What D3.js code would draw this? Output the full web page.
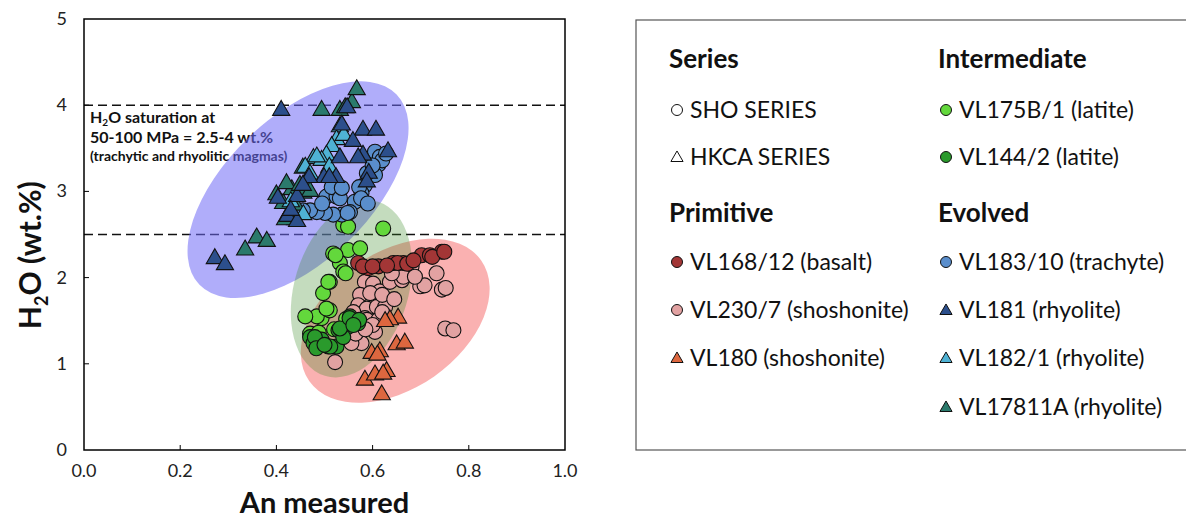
<!DOCTYPE html>
<html>
<head>
<meta charset="utf-8">
<script src="https://cdn.jsdelivr.net/npm/d3@7"></script>
<style>
  body { margin: 0; background: #fff; }
  svg { display: block; font-family: Lato, "Open Sans", sans-serif; }
</style>
</head>
<body>
<svg id="chart" width="1186" height="518"></svg>
<script>
// ---- data (An measured, H2O wt.%) ----
const xTicks = [0.0, 0.2, 0.4, 0.6, 0.8, 1.0];
const yTicks = [0, 1, 2, 3, 4, 5];
const saturationLevels = [4, 2.5];

const vl168 = [[0.570,2.17],[0.591,2.11],[0.612,2.13],[0.643,2.17],[0.664,2.17],[0.702,2.26],[0.719,2.26],[0.744,2.30],
  [0.58,2.13],[0.60,2.13],[0.652,2.17],[0.672,2.16],[0.724,2.24],[0.749,2.30],[0.63,2.14],[0.685,2.20]];
const vl230 = [[0.584,1.95],[0.601,1.93],[0.615,1.84],[0.636,1.95],[0.661,1.97],[0.681,2.13],[0.699,1.90],[0.733,2.05],
  [0.744,1.86],[0.574,1.80],[0.595,1.82],[0.570,1.68],[0.588,1.64],[0.609,1.66],[0.626,1.66],[0.584,1.53],[0.605,1.37],
  [0.577,1.24],[0.556,1.24],[0.522,1.02],[0.751,1.41],[0.768,1.39],[0.588,1.51],[0.612,1.51],[0.708,1.91],[0.752,1.88],
  [0.664,2.01],[0.688,2.01],[0.62,1.80],[0.645,1.75],[0.60,1.45],[0.565,1.35],[0.585,1.40],[0.62,1.60],[0.64,2.05],[0.56,1.60]];
const vl180 = [[0.653,1.53],[0.636,1.51],[0.626,1.49],[0.650,1.22],[0.667,1.24],[0.598,1.12],[0.615,1.14],[0.584,0.81],
  [0.605,0.87],[0.629,0.91],[0.619,0.64],[0.622,0.88],[0.61,1.10]];
const vl175 = [[0.539,2.61],[0.549,2.59],[0.622,2.57],[0.518,2.28],[0.549,2.32],[0.574,2.34],[0.532,2.17],[0.539,2.07],
  [0.511,1.95],[0.497,1.82],[0.494,1.53],[0.511,1.62],[0.484,1.55],[0.504,1.64],[0.47,1.35],[0.523,2.26],[0.544,2.05],
  [0.508,1.95],[0.488,1.36],[0.46,1.55],[0.52,1.40],[0.545,1.52]];
const vl144 = [[0.47,1.31],[0.477,1.24],[0.508,1.20],[0.525,1.20],[0.529,1.39],[0.549,1.43],[0.553,1.55],[0.570,1.47],
  [0.539,1.31],[0.494,1.28],[0.48,1.31],[0.483,1.18],[0.512,1.20],[0.532,1.41],[0.552,1.53],[0.572,1.51],[0.50,1.22],[0.56,1.45]];
const vl183 = [[0.605,3.40],[0.612,3.31],[0.605,3.19],[0.584,3.07],[0.577,2.98],[0.563,2.88],[0.553,2.76],[0.536,2.73],
  [0.518,2.73],[0.501,2.75],[0.484,2.76],[0.47,2.78],[0.504,2.94],[0.525,2.94],[0.515,3.05],[0.605,3.46],[0.615,3.40],
  [0.588,3.21],[0.62,3.36],[0.628,3.44],[0.435,2.75],[0.495,2.86],[0.532,2.92],[0.536,3.04],[0.572,3.05],[0.576,2.92],
  [0.548,2.75],[0.455,2.78],[0.59,2.86],[0.60,3.30]];
const vl181 = [[0.41,3.94],[0.547,3.97],[0.536,3.77],[0.58,3.71],[0.607,3.71],[0.559,3.58],[0.632,3.46],[0.58,3.42],
  [0.532,3.39],[0.592,3.21],[0.499,3.16],[0.468,3.16],[0.524,3.16],[0.588,3.11],[0.443,2.94],[0.403,2.92],[0.423,2.71],
  [0.443,2.65],[0.272,2.22],[0.293,2.15],[0.51,3.16],[0.57,3.39],[0.455,3.07],[0.43,2.78]];
const vl182 = [[0.532,3.75],[0.525,3.60],[0.515,3.52],[0.504,3.42],[0.477,3.38],[0.494,3.36],[0.484,3.40],[0.46,3.28],
  [0.456,2.73],[0.51,3.28],[0.47,3.20],[0.43,2.88],[0.54,3.65]];
const vl17811a = [[0.494,3.94],[0.532,3.94],[0.543,3.97],[0.557,4.03],[0.567,4.18],[0.335,2.32],[0.359,2.46],[0.38,2.42],
  [0.40,2.96],[0.414,2.86],[0.432,3.02],[0.428,2.76],[0.439,2.67],[0.456,2.98],[0.421,3.09],[0.449,3.07],[0.418,2.67],
  [0.455,3.27],[0.44,2.84],[0.47,3.00]];

// field ellipses: centre in data units
const fieldCentres = { evolved: [0.445, 3.02], intermediate: [0.556, 1.87], primitive: [0.647, 1.50] };

// ---- styles ----
const series = [
  { name: "VL230/7 (shoshonite)", data: vl230, shape: "circle", fill: "#e2a2a2" },
  { name: "VL168/12 (basalt)", data: vl168, shape: "circle", fill: "#a33636" },
  { name: "VL180 (shoshonite)", data: vl180, shape: "triangle", fill: "#dd673f" },
  { name: "VL175B/1 (latite)", data: vl175, shape: "circle", fill: "#63d83c" },
  { name: "VL144/2 (latite)", data: vl144, shape: "circle", fill: "#2a9a2c" },
  { name: "VL183/10 (trachyte)", data: vl183, shape: "circle", fill: "#5a8ecc" },
  { name: "VL17811A (rhyolite)", data: vl17811a, shape: "triangle", fill: "#2b7a6c" },
  { name: "VL182/1 (rhyolite)", data: vl182, shape: "triangle", fill: "#4fb2d4" },
  { name: "VL181 (rhyolite)", data: vl181, shape: "triangle", fill: "#2c4f8c" }
];
const byName = Object.fromEntries(series.map(s => [s.name, s]));

const svg = d3.select("#chart");
const margin = { left: 84, top: 19, right: 621, bottom: 68 };
const W = 1186, H = 518;

const x = d3.scaleLinear().domain([0, 1]).range([margin.left, W - margin.right]);
const y = d3.scaleLinear().domain([0, 5]).range([H - margin.bottom, margin.top]);

// tick labels
svg.append("g").selectAll("text").data(xTicks).join("text")
  .attr("x", d => x(d)).attr("y", y(0) + 27)
  .attr("text-anchor", "middle").attr("font-size", 18).attr("fill", "#222")
  .text(d => d.toFixed(1));
svg.append("g").selectAll("text").data(yTicks).join("text")
  .attr("x", x(0) - 17).attr("y", d => y(d) + 6)
  .attr("text-anchor", "end").attr("font-size", 18).attr("fill", "#222")
  .text(d => d);

// inward tick marks
svg.append("g").selectAll("line").data(xTicks.slice(1, -1)).join("line")
  .attr("x1", d => x(d)).attr("x2", d => x(d))
  .attr("y1", y(0)).attr("y2", y(0) - 5)
  .attr("stroke", "#000").attr("stroke-width", 1);
svg.append("g").selectAll("line").data(yTicks.slice(1, -1)).join("line")
  .attr("x1", x(0)).attr("x2", x(0) + 5)
  .attr("y1", d => y(d)).attr("y2", d => y(d))
  .attr("stroke", "#000").attr("stroke-width", 1);

// saturation dashes + note (sit below the coloured fields)
svg.append("g").selectAll("line").data(saturationLevels).join("line")
  .attr("x1", x(0)).attr("x2", x(1))
  .attr("y1", d => y(d)).attr("y2", d => y(d))
  .attr("stroke", "#111").attr("stroke-width", 1.6).attr("stroke-dasharray", "9,5");

const note = svg.append("g").attr("font-weight", 700).attr("fill", "#111");
const l1 = note.append("text").attr("x", x(0) + 6).attr("y", y(4) + 18).attr("font-size", 16);
l1.append("tspan").text("H");
l1.append("tspan").attr("font-size", 10).attr("dy", 3).text("2");
l1.append("tspan").attr("dy", -3).text("O saturation at");
note.append("text").attr("x", x(0) + 6).attr("y", y(4) + 38).attr("font-size", 16)
  .text("50-100 MPa = 2.5-4 wt.%");
note.append("text").attr("x", x(0) + 6).attr("y", y(4) + 56).attr("font-size", 14)
  .text("(trachytic and rhyolitic magmas)");

// coloured fields
const fields = [
  { c: fieldCentres.primitive, rx: 105, ry: 68, rot: -35, fill: "rgb(245,82,82)", op: 0.45 },
  { c: fieldCentres.evolved, rx: 137, ry: 72, rot: -44, fill: "rgb(112,106,245)", op: 0.55 },
  { c: fieldCentres.intermediate, rx: 91, ry: 57, rot: -73, fill: "rgb(60,140,40)", op: 0.3 }
];
svg.append("g").selectAll("ellipse").data(fields).join("ellipse")
  .attr("transform", d => `translate(${x(d.c[0])},${y(d.c[1])}) rotate(${d.rot})`)
  .attr("rx", d => d.rx).attr("ry", d => d.ry)
  .attr("fill", d => d.fill).attr("fill-opacity", d => d.op);

// points
const tri = d3.symbol().type(d3.symbolTriangle).size(128);
series.forEach(s => {
  const g = svg.append("g");
  if (s.shape === "circle") {
    g.selectAll("circle").data(s.data).join("circle")
      .attr("cx", d => x(d[0])).attr("cy", d => y(d[1])).attr("r", 7.5)
      .attr("fill", s.fill).attr("stroke", "#111").attr("stroke-width", 1.1);
  } else {
    g.selectAll("path").data(s.data).join("path")
      .attr("d", tri)
      .attr("transform", d => `translate(${x(d[0])},${y(d[1])})`)
      .attr("fill", s.fill).attr("stroke", "#111").attr("stroke-width", 1.1);
  }
});

// plot frame
svg.append("rect")
  .attr("x", x(0)).attr("y", y(5)).attr("width", x(1) - x(0)).attr("height", y(0) - y(5))
  .attr("fill", "none").attr("stroke", "#000").attr("stroke-width", 1.5);

// axis titles
const yt = svg.append("text").attr("transform", `translate(41,${y(2.26)}) rotate(-90)`)
  .attr("text-anchor", "middle").attr("font-size", 30).attr("font-weight", 700).attr("fill", "#111");
yt.append("tspan").text("H");
yt.append("tspan").attr("font-size", 18).attr("dy", 7).text("2");
yt.append("tspan").attr("dy", -7).text("O (wt.%)");
svg.append("text").attr("x", x(0.5)).attr("y", 513)
  .attr("text-anchor", "middle").attr("font-size", 29).attr("font-weight", 700).attr("fill", "#111")
  .text("An measured");

// ---- legend ----
const leg = svg.append("g");
leg.append("rect").attr("x", 636).attr("y", 20).attr("width", 600).attr("height", 430)
  .attr("fill", "#fff").attr("stroke", "#555").attr("stroke-width", 1.2);

const legendCols = [
  { x: 669, rows: [
    { head: "Series" },
    { label: "SHO SERIES", shape: "circle", fill: "#fff" },
    { label: "HKCA SERIES", shape: "triangle", fill: "#fff" },
    { head: "Primitive" },
    { label: "VL168/12 (basalt)" },
    { label: "VL230/7 (shoshonite)" },
    { label: "VL180 (shoshonite)" }
  ]},
  { x: 938, rows: [
    { head: "Intermediate" },
    { label: "VL175B/1 (latite)" },
    { label: "VL144/2 (latite)" },
    { head: "Evolved" },
    { label: "VL183/10 (trachyte)" },
    { label: "VL181 (rhyolite)" },
    { label: "VL182/1 (rhyolite)" },
    { label: "VL17811A (rhyolite)" }
  ]}
];
const rowY = [59, 110, 157, 213, 262, 310, 358, 407];
const smallTri = d3.symbol().type(d3.symbolTriangle).size(64);

legendCols.forEach(col => {
  col.rows.forEach((r, i) => {
    const cy = rowY[i];
    if (r.head) {
      leg.append("text").attr("x", col.x).attr("y", cy + 9)
        .attr("font-size", 26).attr("font-weight", 700).attr("fill", "#111").text(r.head);
      return;
    }
    const s = byName[r.label] || {};
    const shape = r.shape || s.shape;
    const fill = r.fill || s.fill;
    const sx = col.x + 8;
    if (shape === "circle") {
      leg.append("circle").attr("cx", sx).attr("cy", cy).attr("r", 5.5)
        .attr("fill", fill).attr("stroke", "#111").attr("stroke-width", 1);
    } else {
      leg.append("path").attr("d", smallTri).attr("transform", `translate(${sx},${cy + 1})`)
        .attr("fill", fill).attr("stroke", "#111").attr("stroke-width", 1);
    }
    leg.append("text").attr("x", col.x + 21).attr("y", cy + 8)
      .attr("font-size", 23).attr("fill", "#111").text(r.label);
  });
});
</script>
</body>
</html>
